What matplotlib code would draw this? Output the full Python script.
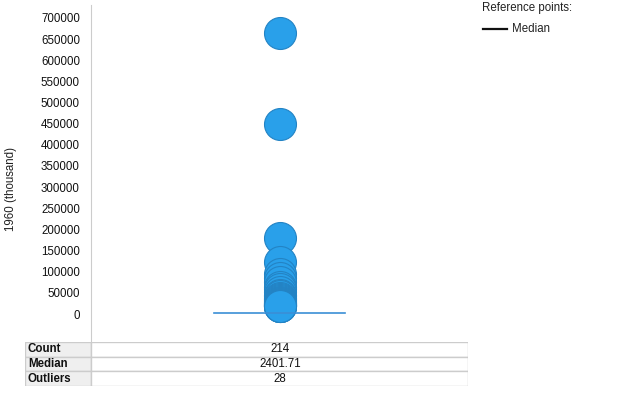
import matplotlib.pyplot as plt
from matplotlib.patches import Rectangle
from matplotlib.lines import Line2D

plt.rcParams['font.family'] = ['Liberation Sans', 'DejaVu Sans']

# 数据
outliers = [665000, 450000, 180000, 122000, 95000, 85000, 75000, 65000, 58000,
            52000, 46000, 42000, 38000, 35000, 32000, 30000, 28000, 26500, 25000,
            24000, 23000, 22000, 21000, 20500, 20000, 19500, 19000, 18500]
median = 2401.71
stat_names = ['Count', 'Median', 'Outliers']
stat_values = ['214', '2401.71', '28']
y_ticks = list(range(0, 700001, 50000))

W, H = 622, 415
fig = plt.figure(figsize=(W / 100, H / 100), dpi=100)

# 主图
ax = fig.add_axes([91 / W, 1 - 342 / H, (468 - 91) / W, (342 - 5) / H])
ax.set_xlim(0, 1)
ax.set_ylim(-66200, 730700)
ax.scatter([0.5] * len(outliers), outliers, s=530, color='#29a0ea',
           edgecolors='#2383c4', linewidths=0.8, zorder=3)
ax.plot([0.325, 0.675], [median, median], color='#3b8fd6', linewidth=1.2, zorder=4)

ax.set_yticks(y_ticks)
ax.set_yticklabels([str(v) for v in y_ticks])
ax.set_xticks([])
ax.tick_params(axis='y', length=0, pad=8, labelsize=8.3, colors='#111111')
for s in ['top', 'right', 'bottom']:
    ax.spines[s].set_visible(False)
ax.spines['left'].set_color('#cccccc')
ax.set_ylabel('1960 (thousand)', fontsize=8.3, color='#222222')
ax.yaxis.set_label_coords(-(91 - 17) / (468 - 91), 0.455)

# 统计表
tab = fig.add_axes([25 / W, 1 - 386 / H, (468 - 25) / W, (386 - 342) / H])
tab.set_xlim(25, 468)
tab.set_ylim(386, 342)
tab.axis('off')
row_h = (386 - 342) / len(stat_names)
for i, (name, val) in enumerate(zip(stat_names, stat_values)):
    y0 = 342 + i * row_h
    tab.add_patch(Rectangle((25, y0), 66, row_h, facecolor='#efefef',
                            edgecolor='#cccccc', linewidth=1))
    tab.add_patch(Rectangle((91, y0), 377, row_h, facecolor='white',
                            edgecolor='#cccccc', linewidth=1))
    tab.text(28, y0 + row_h / 2, name, fontsize=8.3, fontweight='bold',
             va='center', ha='left', color='#111111')
    tab.text(280, y0 + row_h / 2, val, fontsize=8.3, va='center', ha='center',
             color='#111111')

# 图例
fig.text(482 / W, 1 - 8 / H, 'Reference points:', fontsize=8.3, va='center',
         ha='left', color='#222222')
fig.add_artist(Line2D([483 / W, 507 / W], [1 - 29 / H, 1 - 29 / H],
                      color='#111111', linewidth=1.6))
fig.text(512 / W, 1 - 29 / H, 'Median', fontsize=8.3, va='center', ha='left',
         color='#222222')

plt.savefig('out.png', dpi=100)
